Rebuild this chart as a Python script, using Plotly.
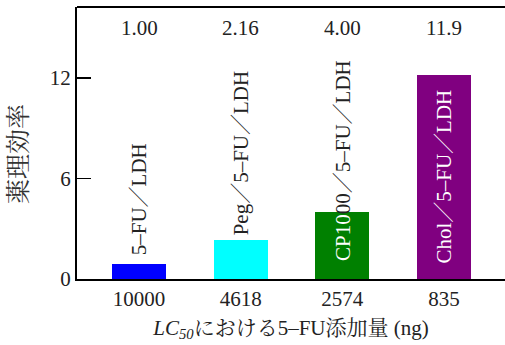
import plotly.graph_objects as go

categories = ["10000", "4618", "2574", "835"]
values = [0.92, 2.35, 4.0, 12.2]
value_labels = ["1.00", "2.16", "4.00", "11.9"]
bar_colors = ["#0000FF", "#00FFFF", "#008000", "#800080"]
bar_names = [
    "5–FU／LDH",
    "Peg／5–FU／LDH",
    "<span style=\"color:white\">CP10</span>00／5–FU／LDH",
    "Chol／5–FU／LDH",
]
name_colors = ["#222222", "#222222", "#222222", "white"]
name_y = [1.3, 2.5, 0.95, 0.8]

FONT = "Liberation Serif, Noto Serif CJK JP, Noto Sans CJK JP, serif"

fig = go.Figure()
fig.add_trace(go.Bar(x=categories, y=values, marker=dict(color=bar_colors, line=dict(width=0)),
                     width=0.53, showlegend=False, hoverinfo="skip"))

for i, (c, lab) in enumerate(zip(categories, value_labels)):
    fig.add_annotation(x=i, y=15.0, text=lab, showarrow=False, xanchor="center", yanchor="middle",
                       font=dict(size=21, color="#222222", family=FONT))

for i, (nm, yy, col) in enumerate(zip(bar_names, name_y, name_colors)):
    fig.add_annotation(x=i, y=yy, text=nm, showarrow=False, textangle=-90, xanchor="center",
                       yanchor="bottom", font=dict(size=21, color=col, family=FONT))

fig.add_annotation(xref="paper", yref="paper", x=-0.135, y=0.46, text="薬理効率", showarrow=False,
                   textangle=-90, xanchor="center", yanchor="middle",
                   font=dict(size=25, color="#333333", family=FONT))

fig.add_shape(type="line", xref="paper", yref="paper", x0=0, x1=1, y0=1, y1=1,
              line=dict(color="black", width=2))

fig.update_layout(
    width=505, height=345,
    margin=dict(l=77, r=0, t=7, b=66),
    plot_bgcolor="white", paper_bgcolor="white",
    font=dict(family=FONT, size=21, color="#222222"),
    bargap=0,
    xaxis=dict(type="category", range=[-0.61, 3.6], showline=True, linecolor="black", linewidth=2,
               ticks="", showgrid=False, zeroline=False, tickfont=dict(size=21),
               title=dict(text="<i>LC</i><sub><i>50</i></sub>における5–FU添加量 (ng)",
                          font=dict(size=21), standoff=10)),
    yaxis=dict(range=[0, 16.24], tickvals=[0, 6, 12], showline=True, linecolor="black", linewidth=2,
               ticks="inside", ticklen=14, tickwidth=1.5, tickcolor="black",
               showgrid=False, zeroline=False, tickfont=dict(size=21)),
)

fig.write_html("out.html", config={"displayModeBar": False, "staticPlot": True},
               post_script="document.body.style.margin='0';document.body.style.overflow='hidden';")
